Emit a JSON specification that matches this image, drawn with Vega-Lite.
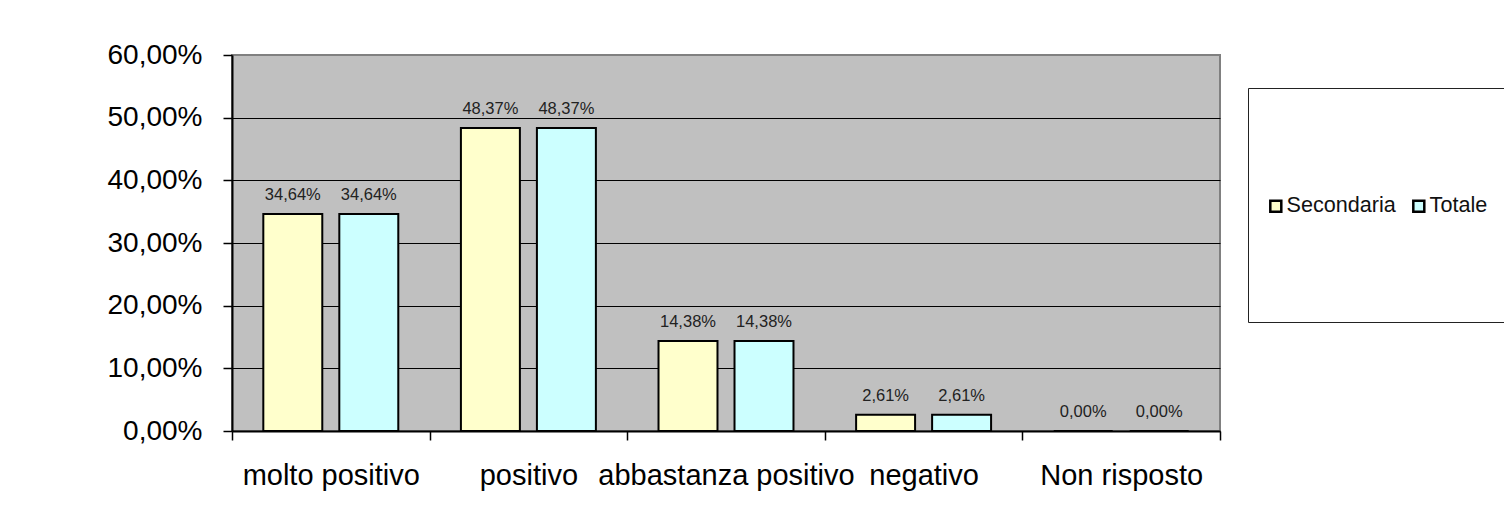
{
  "$schema": "https://vega.github.io/schema/vega-lite/v6.json",
  "width": 988,
  "height": 376,
  "autosize": {"type": "none"},
  "padding": {"left": 232, "top": 55, "right": 284, "bottom": 74},
  "background": "white",
  "data": {
    "values": [
      {"cat": "molto positivo", "series": "Secondaria", "value": 0.3464},
      {"cat": "molto positivo", "series": "Totale", "value": 0.3464},
      {"cat": "positivo", "series": "Secondaria", "value": 0.4837},
      {"cat": "positivo", "series": "Totale", "value": 0.4837},
      {"cat": "abbastanza positivo", "series": "Secondaria", "value": 0.1438},
      {"cat": "abbastanza positivo", "series": "Totale", "value": 0.1438},
      {"cat": "negativo", "series": "Secondaria", "value": 0.0261},
      {"cat": "negativo", "series": "Totale", "value": 0.0261},
      {"cat": "Non risposto", "series": "Secondaria", "value": 0.0},
      {"cat": "Non risposto", "series": "Totale", "value": 0.0}
    ]
  },
  "encoding": {
    "x": {
      "field": "cat",
      "type": "nominal",
      "sort": null,
      "scale": {"paddingInner": 0, "paddingOuter": 0},
      "axis": {
        "title": null,
        "labelAngle": 0,
        "tickBand": "extent",
        "tickSize": 9,
        "tickWidth": 1.5,
        "tickColor": "black",
        "labelPadding": 21,
        "labelFontSize": 29,
        "labelColor": "black",
        "labelLimit": 0,
        "labelOverlap": false,
        "domainColor": "black",
        "domainWidth": 2,
        "grid": false
      }
    },
    "xOffset": {
      "field": "series",
      "type": "nominal",
      "sort": ["Secondaria", "Totale"],
      "scale": {"paddingInner": 0.224, "paddingOuter": 0.412}
    },
    "y": {
      "field": "value",
      "type": "quantitative",
      "scale": {"domain": [0, 0.6], "nice": false},
      "axis": {
        "title": null,
        "values": [0, 0.1, 0.2, 0.3, 0.4, 0.5, 0.6],
        "format": ".2%",
        "labelFontSize": 28,
        "labelColor": "black",
        "labelPadding": 21,
        "tickSize": 9,
        "tickWidth": 1.5,
        "tickColor": "black",
        "domainColor": "black",
        "domainWidth": 2,
        "grid": true,
        "gridColor": {"condition": {"test": "datum.value >= 0.6", "value": "#808080"}, "value": "black"},
        "gridWidth": 1,
        "gridOpacity": 1
      }
    }
  },
  "layer": [
    {
      "mark": {"type": "bar", "stroke": "black", "strokeWidth": 2},
      "encoding": {
        "color": {
          "field": "series",
          "type": "nominal",
          "scale": {"domain": ["Secondaria", "Totale"], "range": ["#FFFFCC", "#CCFFFF"]},
          "legend": {
            "title": " ",
            "titleFontSize": 10,
            "titlePadding": 80,
            "orient": "none",
            "legendX": 1016,
            "legendY": 33,
            "direction": "horizontal",
            "padding": 17,
            "fillColor": "white",
            "strokeColor": "#222222",
            "symbolType": "M-1,-1H1V1H-1Z M0,17",
            "symbolSize": 121,
            "symbolStrokeColor": "black",
            "symbolStrokeWidth": 2.5,
            "symbolOpacity": 1,
            "labelFontSize": 21.6,
            "labelColor": "#111111",
            "labelOffset": 0,
            "columnPadding": 12
          }
        }
      }
    },
    {
      "mark": {"type": "text", "baseline": "alphabetic", "dy": -14, "fontSize": 16.5, "color": "#222222"},
      "encoding": {
        "text": {"field": "value", "type": "quantitative", "format": ".2%"}
      }
    }
  ],
  "config": {
    "font": "Liberation Sans",
    "locale": {
      "number": {"decimal": ",", "thousands": ".", "grouping": [3], "currency": ["", " €"]}
    },
    "view": {"fill": "#C0C0C0", "stroke": "#808080", "strokeWidth": 2}
  }
}
